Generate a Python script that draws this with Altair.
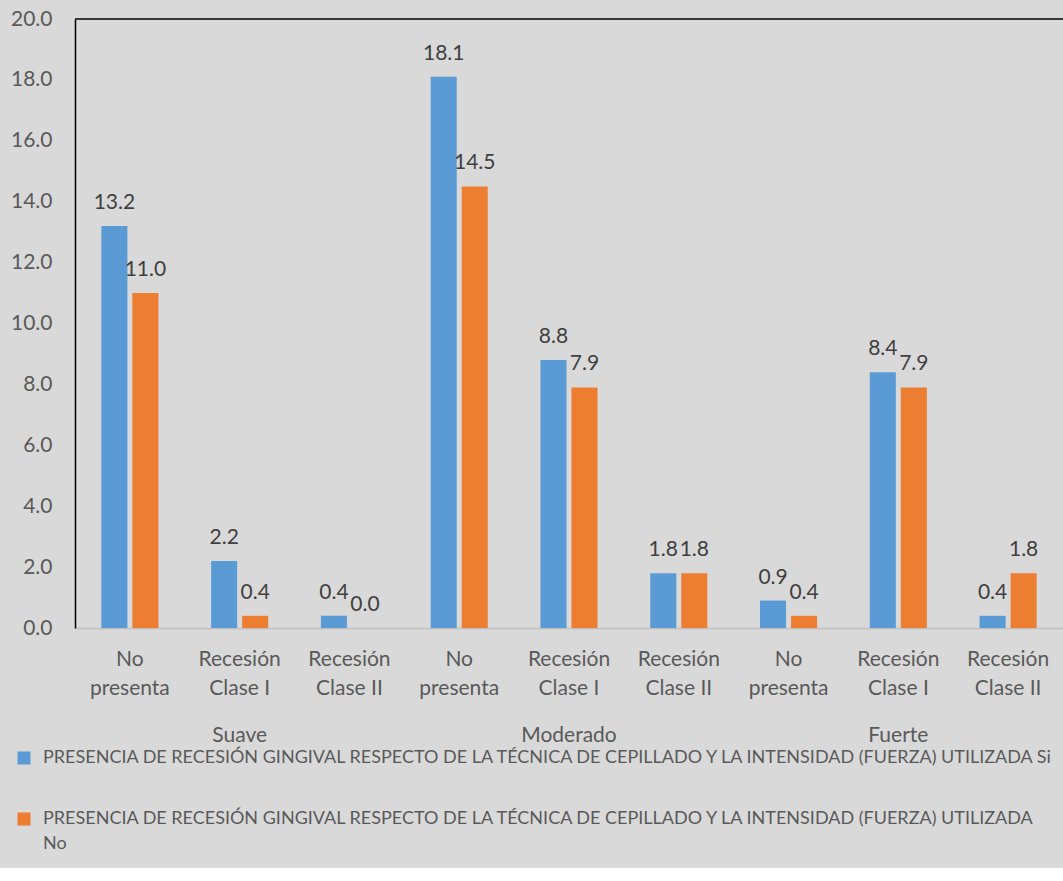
import altair as alt
import pandas as pd

groups = ["Suave", "Moderado", "Fuerte"]
categories = ["No presenta", "Recesión Clase I", "Recesión Clase II"]
cat_labels = ["No\npresenta", "Recesión\nClase I", "Recesión\nClase II"]
series = [
    "PRESENCIA DE RECESIÓN GINGIVAL RESPECTO DE LA TÉCNICA DE CEPILLADO Y LA INTENSIDAD (FUERZA) UTILIZADA Si",
    "PRESENCIA DE RECESIÓN GINGIVAL RESPECTO DE LA TÉCNICA DE CEPILLADO Y LA INTENSIDAD (FUERZA) UTILIZADA No",
]
values_si = [13.2, 2.2, 0.4, 18.1, 8.8, 1.8, 0.9, 8.4, 0.4]
values_no = [11.0, 0.4, 0.0, 14.5, 7.9, 1.8, 0.4, 7.9, 1.8]
y_ticks = [0, 2, 4, 6, 8, 10, 12, 14, 16, 18, 20]
colors = ["#5b9bd5", "#ed7d31"]

FONT = "Lato"

keys = [f"{g}|{c}" for g in groups for c in categories]
rows = []
for i, k in enumerate(keys):
    rows.append({"key": k, "series": series[0], "value": values_si[i]})
    rows.append({"key": k, "series": series[1], "value": values_no[i]})
bars_df = pd.DataFrame(rows)

cat_df = pd.DataFrame({"key": keys, "label": [cat_labels[i % 3] for i in range(len(keys))]})
grp_df = pd.DataFrame({"key": [f"{g}|{categories[1]}" for g in groups], "label": groups})

xscale = alt.Scale(domain=keys, paddingInner=0.48, paddingOuter=0.24)
x_enc = alt.X("key:N", scale=xscale, sort=keys,
              axis=alt.Axis(labels=False, ticks=False, title=None, domainColor="#bfbfbf", domainWidth=1.5))
xoff = alt.XOffset("series:N", sort=series, scale=alt.Scale(domain=series, paddingInner=0.16, paddingOuter=0))
y_enc = alt.Y("value:Q", scale=alt.Scale(domain=[0, 20], nice=False),
              axis=alt.Axis(values=y_ticks, format=".1f", title=None, grid=False, ticks=False,
                            domainColor="black", domainWidth=1.5, labelFont=FONT, labelFontSize=21,
                            labelColor="#595959", labelPadding=23))

legend = alt.Legend(
    orient="none", legendX=-60, legendY=730, title=None, direction="vertical",
    symbolType="square", symbolSize=169, symbolStrokeWidth=0, labelOffset=10,
    labelFont=FONT, labelFontSize=18, labelColor="#595959", labelLimit=3000,
    rowPadding=43,
    labelExpr="indexof(datum.label, ' No') > 0 ? [replace(datum.label, ' No', ''), 'No'] : datum.label",
)

bars = alt.Chart(bars_df).mark_bar().encode(
    x=x_enc, xOffset=xoff, y=y_enc,
    color=alt.Color("series:N", sort=series, scale=alt.Scale(domain=series, range=colors), legend=legend),
)

labels = alt.Chart(bars_df).mark_text(
    baseline="alphabetic", dy=-17, font=FONT, fontSize=21, color="#404040"
).encode(
    x=alt.X("key:N", sort=keys), xOffset=alt.XOffset("series:N", sort=series), y="value:Q",
    text=alt.Text("value:Q", format=".1f"),
)

cat_text = alt.Chart(cat_df).mark_text(
    baseline="top", lineBreak="\n", lineHeight=29, font=FONT, fontSize=21, color="#595959"
).encode(x=alt.X("key:N", sort=keys), y=alt.value(630), text="label:N")

grp_text = alt.Chart(grp_df).mark_text(
    baseline="middle", font=FONT, fontSize=21, color="#595959"
).encode(x=alt.X("key:N", sort=keys), y=alt.value(717), text="label:N")

top_rule = alt.Chart(pd.DataFrame({"v": [20]})).mark_rule(color="black", strokeWidth=1.5).encode(
    y=alt.Y("v:Q")
)

chart = alt.layer(bars, labels, cat_text, grp_text, top_rule).properties(
    width=988, height=609,
    autosize=alt.AutoSizeParams(type="none"),
    padding={"left": 75, "top": 19, "right": 0, "bottom": 240},
    background="#d9d9d9",
).configure_view(strokeWidth=0).configure(style={"guide-label": {"lineHeight": 25}})

chart.save("out.html", embed_options={"renderer": "svg", "actions": False})
